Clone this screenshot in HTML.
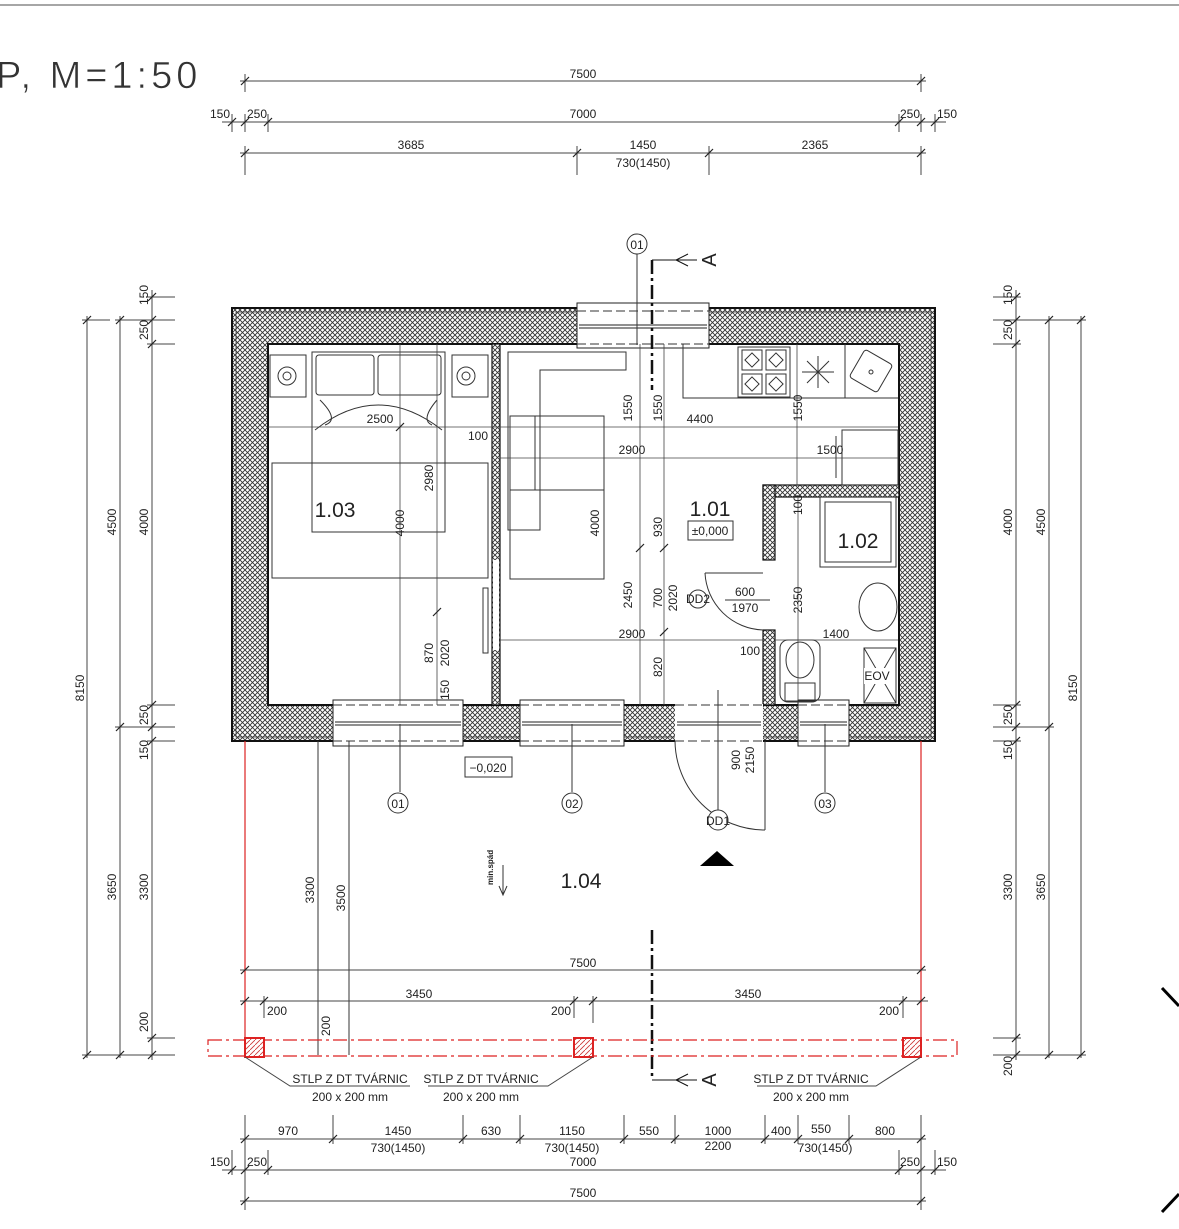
<!DOCTYPE html>
<html><head><meta charset="utf-8"><style>
html,body{margin:0;padding:0;background:#fff}
svg{display:block}
text{font-family:"Liberation Sans Narrow","Liberation Sans",sans-serif;fill:#222}
.d{font-size:12px}
</style></head><body>
<svg width="1179" height="1229" viewBox="0 0 1179 1229" xmlns="http://www.w3.org/2000/svg">
<defs>
<pattern id="h" width="5" height="5" patternUnits="userSpaceOnUse">
<rect width="5" height="5" fill="#fff"/>
<path d="M0 0L5 5M5 0L0 5" stroke="#333" stroke-width="0.9"/>
</pattern>
<pattern id="hr" width="5" height="5" patternUnits="userSpaceOnUse">
<rect width="5" height="5" fill="#fff"/>
<path d="M0 5L5 0" stroke="#c33" stroke-width="0.8"/>
</pattern>
<g id="t"><line x1="-4" y1="4" x2="4" y2="-4" stroke="#222" stroke-width="1.2"/></g>
</defs>

<line x1="0" y1="5" x2="1179" y2="5" stroke="#888" stroke-width="1.5"/>
<text x="-4" y="88" style="font-family:'Liberation Sans',sans-serif;font-size:38px;letter-spacing:4px;fill:#333;stroke:#fff;stroke-width:0.6">P,  M=1:50</text>

<!-- TOP DIMS -->
<g stroke="#444" stroke-width="1" fill="none">
<line x1="240" y1="81" x2="926" y2="81"/>
<line x1="245" y1="74" x2="245" y2="92"/><line x1="921" y1="74" x2="921" y2="92"/>
<line x1="222" y1="122" x2="946" y2="122"/>
<line x1="232" y1="114" x2="232" y2="132"/><line x1="245" y1="114" x2="245" y2="132"/><line x1="268" y1="114" x2="268" y2="132"/>
<line x1="899" y1="114" x2="899" y2="132"/><line x1="921" y1="114" x2="921" y2="132"/><line x1="935" y1="114" x2="935" y2="132"/>
<line x1="240" y1="153" x2="926" y2="153"/>
<line x1="245" y1="146" x2="245" y2="175"/><line x1="577" y1="146" x2="577" y2="175"/><line x1="709" y1="146" x2="709" y2="175"/><line x1="921" y1="146" x2="921" y2="175"/>
</g>
<use href="#t" x="245" y="81"/><use href="#t" x="921" y="81"/>
<use href="#t" x="232" y="122"/><use href="#t" x="245" y="122"/><use href="#t" x="268" y="122"/><use href="#t" x="899" y="122"/><use href="#t" x="921" y="122"/><use href="#t" x="935" y="122"/>
<use href="#t" x="245" y="153"/><use href="#t" x="577" y="153"/><use href="#t" x="709" y="153"/><use href="#t" x="921" y="153"/>
<g class="d" text-anchor="middle">
<text x="583" y="78">7500</text>
<text x="220" y="118">150</text><text x="257" y="118">250</text><text x="583" y="118">7000</text><text x="910" y="118">250</text><text x="947" y="118">150</text>
<text x="411" y="149">3685</text><text x="643" y="149">1450</text><text x="643" y="167">730(1450)</text><text x="815" y="149">2365</text>
</g>

<!-- LEFT DIMS -->
<g stroke="#444" stroke-width="1" fill="none">
<line x1="87" y1="316" x2="87" y2="1058"/>
<line x1="120" y1="316" x2="120" y2="1058"/>
<line x1="152" y1="290" x2="152" y2="1060"/>
<line x1="82" y1="320" x2="110" y2="320"/><line x1="82" y1="1055" x2="175" y2="1055"/>
<line x1="115" y1="320" x2="175" y2="320"/><line x1="115" y1="727" x2="175" y2="727"/>
<line x1="147" y1="297" x2="175" y2="297"/><line x1="147" y1="344" x2="175" y2="344"/><line x1="147" y1="705" x2="175" y2="705"/><line x1="147" y1="741" x2="175" y2="741"/><line x1="147" y1="1038" x2="175" y2="1038"/>
<line x1="1016" y1="290" x2="1016" y2="1060"/>
<line x1="1049" y1="316" x2="1049" y2="1058"/>
<line x1="1081" y1="316" x2="1081" y2="1058"/>
<line x1="993" y1="297" x2="1021" y2="297"/><line x1="993" y1="320" x2="1086" y2="320"/><line x1="993" y1="344" x2="1021" y2="344"/><line x1="993" y1="705" x2="1021" y2="705"/><line x1="993" y1="727" x2="1054" y2="727"/><line x1="993" y1="741" x2="1021" y2="741"/><line x1="993" y1="1038" x2="1021" y2="1038"/><line x1="993" y1="1055" x2="1086" y2="1055"/>
</g>
<g>
<use href="#t" x="87" y="320"/><use href="#t" x="87" y="1055"/><use href="#t" x="120" y="320"/><use href="#t" x="120" y="727"/><use href="#t" x="120" y="1055"/>
<use href="#t" x="152" y="297"/><use href="#t" x="152" y="320"/><use href="#t" x="152" y="344"/><use href="#t" x="152" y="705"/><use href="#t" x="152" y="727"/><use href="#t" x="152" y="741"/><use href="#t" x="152" y="1038"/><use href="#t" x="152" y="1055"/>
<use href="#t" x="1081" y="320"/><use href="#t" x="1081" y="1055"/><use href="#t" x="1049" y="320"/><use href="#t" x="1049" y="727"/><use href="#t" x="1049" y="1055"/>
<use href="#t" x="1016" y="297"/><use href="#t" x="1016" y="320"/><use href="#t" x="1016" y="344"/><use href="#t" x="1016" y="705"/><use href="#t" x="1016" y="727"/><use href="#t" x="1016" y="741"/><use href="#t" x="1016" y="1038"/><use href="#t" x="1016" y="1055"/>
</g>
<g class="d" text-anchor="middle">
<text transform="translate(84,688) rotate(-90)">8150</text>
<text transform="translate(116,522) rotate(-90)">4500</text>
<text transform="translate(116,887) rotate(-90)">3650</text>
<text transform="translate(148,295) rotate(-90)">150</text>
<text transform="translate(148,330) rotate(-90)">250</text>
<text transform="translate(148,522) rotate(-90)">4000</text>
<text transform="translate(148,715) rotate(-90)">250</text>
<text transform="translate(148,750) rotate(-90)">150</text>
<text transform="translate(148,887) rotate(-90)">3300</text>
<text transform="translate(148,1022) rotate(-90)">200</text>
<text transform="translate(1077,688) rotate(-90)">8150</text>
<text transform="translate(1045,522) rotate(-90)">4500</text>
<text transform="translate(1045,887) rotate(-90)">3650</text>
<text transform="translate(1012,295) rotate(-90)">150</text>
<text transform="translate(1012,330) rotate(-90)">250</text>
<text transform="translate(1012,522) rotate(-90)">4000</text>
<text transform="translate(1012,715) rotate(-90)">250</text>
<text transform="translate(1012,750) rotate(-90)">150</text>
<text transform="translate(1012,887) rotate(-90)">3300</text>
<text transform="translate(1012,1066) rotate(-90)">200</text>
</g>

<!-- WALLS -->
<path fill-rule="evenodd" fill="url(#h)" stroke="#111" stroke-width="2" d="M232 308H935V741H232Z M268 344V705H899V344Z"/>
<rect x="236" y="312" width="695" height="425" fill="none" stroke="#333" stroke-width="0.8"/>
<rect x="492" y="344" width="8" height="361" fill="url(#h)" stroke="#111" stroke-width="1.2"/>
<rect x="763" y="485" width="136" height="12" fill="url(#h)" stroke="#111" stroke-width="1.2"/>
<rect x="763" y="485" width="12" height="75" fill="url(#h)" stroke="#111" stroke-width="1.2"/>
<rect x="763" y="630" width="12" height="75" fill="url(#h)" stroke="#111" stroke-width="1.2"/>
<g fill="#fff" stroke="#222" stroke-width="1">
<rect x="577" y="303" width="132" height="45"/>
<rect x="333" y="700" width="130" height="46"/>
<rect x="520" y="700" width="104" height="46"/>
<rect x="675" y="704" width="88" height="38" stroke="none"/>
<rect x="798" y="700" width="51" height="46"/>
<rect x="493" y="560" width="6" height="90" stroke="none"/>
</g>
<g stroke="#222" stroke-width="1" fill="none">
<line x1="579" y1="325" x2="707" y2="325"/><line x1="579" y1="328" x2="707" y2="328"/>
<line x1="335" y1="722" x2="461" y2="722"/><line x1="335" y1="725" x2="461" y2="725"/>
<line x1="522" y1="722" x2="622" y2="722"/><line x1="522" y1="725" x2="622" y2="725"/>
<line x1="800" y1="722" x2="847" y2="722"/><line x1="800" y1="725" x2="847" y2="725"/>
<line x1="677" y1="722" x2="761" y2="722"/><line x1="677" y1="725" x2="761" y2="725"/>
</g>
<g stroke="#333" stroke-width="1" stroke-dasharray="9,4" fill="none">
<line x1="577" y1="311" x2="709" y2="311"/><line x1="577" y1="344" x2="709" y2="344"/>
<line x1="333" y1="705" x2="463" y2="705"/><line x1="333" y1="741" x2="463" y2="741"/>
<line x1="520" y1="705" x2="624" y2="705"/><line x1="520" y1="741" x2="624" y2="741"/>
<line x1="798" y1="705" x2="849" y2="705"/><line x1="798" y1="741" x2="849" y2="741"/>
<line x1="675" y1="705" x2="765" y2="705"/><line x1="675" y1="741" x2="765" y2="741"/>
</g>

<!-- FURNITURE -->
<g stroke="#333" stroke-width="1" fill="none">
<rect x="270" y="355" width="36" height="42"/><circle cx="287" cy="376" r="9"/><circle cx="287" cy="376" r="4"/>
<rect x="452" y="355" width="36" height="42"/><circle cx="466" cy="376" r="9"/><circle cx="466" cy="376" r="4"/>
<rect x="312" y="352" width="133" height="180"/>
<rect x="316" y="355" width="58" height="40" rx="3"/><rect x="378" y="355" width="63" height="40" rx="3"/>
<path d="M315 430Q378 380 442 430"/><path d="M320 400Q340 420 325 425M437 400Q420 420 432 425"/>
<rect x="272" y="463" width="216" height="115"/>
<path d="M508 352H626V370H540V530H508Z"/>
<rect x="510" y="416" width="94" height="163"/><line x1="535" y1="416" x2="535" y2="490"/><line x1="510" y1="490" x2="604" y2="490"/>
<rect x="483" y="588" width="5" height="65"/>
<path d="M683 344V398H898"/>
<rect x="738" y="347" width="52" height="50"/>
<rect x="742" y="350" width="20" height="20"/><rect x="766" y="350" width="20" height="20"/><rect x="742" y="374" width="20" height="20"/><rect x="766" y="374" width="20" height="20"/>
<rect x="747" y="355" width="10" height="10" transform="rotate(45 752 360)"/><rect x="771" y="355" width="10" height="10" transform="rotate(45 776 360)"/><rect x="747" y="379" width="10" height="10" transform="rotate(45 752 384)"/><rect x="771" y="379" width="10" height="10" transform="rotate(45 776 384)"/>
<path d="M818 356V388M802 372H834M807 361L829 383M829 361L807 383"/>
<line x1="845" y1="344" x2="845" y2="398"/>
<rect x="855" y="355" width="32" height="32" rx="3" transform="rotate(30 871 371)"/><circle cx="871" cy="372" r="2"/>
<rect x="842" y="430" width="56" height="55"/><line x1="836" y1="436" x2="836" y2="478"/>
<rect x="820" y="497" width="76" height="70"/><rect x="825" y="502" width="66" height="60"/>
<ellipse cx="878" cy="607" rx="19" ry="24"/>
<rect x="780" y="640" width="40" height="62" rx="8"/><ellipse cx="800" cy="660" rx="14" ry="18"/>
<rect x="785" y="683" width="30" height="18"/>
<rect x="864" y="648" width="32" height="55"/><line x1="864" y1="648" x2="896" y2="703"/><line x1="896" y1="648" x2="864" y2="703"/>
<path d="M705 573A60 60 0 0 0 763 630"/><line x1="705" y1="573" x2="763" y2="573"/>
<path d="M675 741A90 90 0 0 0 765 830"/><line x1="765" y1="741" x2="765" y2="830"/>
</g>
<rect x="864" y="668" width="26" height="16" fill="#fff"/>
<text x="877" y="680" class="d" text-anchor="middle">EOV</text>

<!-- INTERIOR DIMS -->
<g stroke="#444" stroke-width="0.8" fill="none">
<line x1="268" y1="427" x2="898" y2="427"/>
<line x1="500" y1="458" x2="898" y2="458"/>
<line x1="500" y1="640" x2="763" y2="640"/><line x1="775" y1="640" x2="898" y2="640"/>
<line x1="400" y1="344" x2="400" y2="705"/>
<line x1="437" y1="344" x2="437" y2="705"/>
<line x1="640" y1="344" x2="640" y2="705"/>
<line x1="664" y1="344" x2="664" y2="705"/>
<line x1="797" y1="344" x2="797" y2="485"/>
<line x1="798" y1="497" x2="798" y2="700"/>
</g>
<g>
<use href="#t" x="400" y="427"/><use href="#t" x="437" y="612"/><use href="#t" x="664" y="548"/><use href="#t" x="664" y="632"/><use href="#t" x="640" y="548"/>
</g>
<g class="d" text-anchor="middle">
<text x="380" y="423">2500</text><text x="700" y="423">4400</text>
<text x="478" y="440">100</text>
<text x="632" y="454">2900</text><text x="830" y="454">1500</text>
<text x="632" y="638">2900</text><text x="836" y="638">1400</text>
<text x="750" y="655">100</text>
<text transform="translate(404,523) rotate(-90)">4000</text>
<text transform="translate(433,478) rotate(-90)">2980</text>
<text transform="translate(433,653) rotate(-90)">870</text>
<text transform="translate(449,653) rotate(-90)">2020</text>
<text transform="translate(449,690) rotate(-90)">150</text>
<text transform="translate(599,523) rotate(-90)" fill="#999">4000</text>
<text transform="translate(632,408) rotate(-90)">1550</text>
<text transform="translate(662,408) rotate(-90)">1550</text>
<text transform="translate(662,527) rotate(-90)" fill="#999">930</text>
<text transform="translate(632,595) rotate(-90)">2450</text>
<text transform="translate(662,598) rotate(-90)">700</text>
<text transform="translate(677,598) rotate(-90)">2020</text>
<text transform="translate(662,667) rotate(-90)">820</text>
<text transform="translate(802,408) rotate(-90)">1550</text>
<text transform="translate(802,505) rotate(-90)">100</text>
<text transform="translate(802,600) rotate(-90)">2350</text>
<text x="745" y="596">600</text><text x="745" y="612">1970</text>
</g>
<line x1="725" y1="600" x2="770" y2="600" stroke="#333"/>
<circle cx="698" cy="599" r="9" fill="#fff" stroke="#333"/><text x="698" y="603" class="d" text-anchor="middle" font-size="11">DD2</text>

<g style="font-family:'Liberation Sans',sans-serif" text-anchor="middle" font-size="21">
<text x="335" y="517">1.03</text><text x="710" y="516">1.01</text><text x="858" y="548">1.02</text><text x="581" y="888">1.04</text>
</g>
<rect x="688" y="521" width="45" height="19" fill="#fff" stroke="#333"/><text x="710" y="535" class="d" text-anchor="middle">±0,000</text>
<rect x="465" y="757" width="47" height="20" fill="#fff" stroke="#333"/><text x="488" y="772" class="d" text-anchor="middle">−0,020</text>
<text transform="translate(493,885) rotate(-90)" font-size="8" style="font-weight:bold">min.spád</text>
<path d="M503 865V895M499 886L503 895L507 886" stroke="#333" fill="none"/>
<polygon points="700,866 717,851 734,866" fill="#000"/>

<g stroke="#333" fill="none" stroke-width="1">
<line x1="400" y1="724" x2="400" y2="792"/><line x1="572" y1="724" x2="572" y2="792"/><line x1="825" y1="724" x2="825" y2="792"/>
<line x1="718" y1="690" x2="718" y2="810"/>
<line x1="637" y1="254" x2="637" y2="345"/>
<line x1="318" y1="741" x2="318" y2="1055"/><line x1="349" y1="741" x2="349" y2="1055"/>
</g>
<g fill="#fff" stroke="#333">
<circle cx="398" cy="803" r="10"/><circle cx="572" cy="803" r="10"/><circle cx="825" cy="803" r="10"/><circle cx="718" cy="820" r="10"/><circle cx="637" cy="244" r="10"/>
</g>
<g class="d" text-anchor="middle">
<text x="398" y="808">01</text><text x="572" y="808">02</text><text x="825" y="808">03</text><text x="718" y="825">DD1</text><text x="637" y="249">01</text>
<text transform="translate(314,890) rotate(-90)">3300</text>
<text transform="translate(345,898) rotate(-90)">3500</text>
<text transform="translate(330,1026) rotate(-90)">200</text>
<text transform="translate(740,760) rotate(-90)">900</text>
<text transform="translate(754,760) rotate(-90)">2150</text>
</g>

<g stroke="#111" stroke-width="2.5" stroke-dasharray="14,4,3,4" fill="none">
<line x1="652" y1="260" x2="652" y2="390"/>
<line x1="652" y1="930" x2="652" y2="1080"/>
</g>
<path d="M652 260H697M688 254L676 260L688 266M652 1080H697M688 1074L676 1080L688 1086" stroke="#111" fill="none"/>
<text transform="translate(716,260) rotate(-90)" font-size="20" text-anchor="middle" style="font-family:'Liberation Sans',sans-serif">A</text>
<text transform="translate(716,1080) rotate(-90)" font-size="20" text-anchor="middle" style="font-family:'Liberation Sans',sans-serif">A</text>

<g stroke="#d22" fill="none" stroke-width="1.2">
<line x1="245" y1="741" x2="245" y2="1040"/><line x1="921" y1="741" x2="921" y2="1040"/>
<rect x="208" y="1040" width="749" height="16" stroke-dasharray="14,4,3,4"/>
</g>
<g stroke="#d22" stroke-width="2" fill="url(#hr)">
<rect x="245" y="1038" width="19" height="19"/><rect x="574" y="1038" width="19" height="19"/><rect x="903" y="1038" width="18" height="19"/>
</g>

<g stroke="#444" stroke-width="1" fill="none">
<line x1="240" y1="970" x2="926" y2="970"/>
<line x1="240" y1="1001" x2="928" y2="1001"/>
<line x1="264" y1="996" x2="264" y2="1018"/><line x1="574" y1="996" x2="574" y2="1018"/><line x1="593" y1="996" x2="593" y2="1023"/><line x1="903" y1="996" x2="903" y2="1018"/>
<path d="M245 1057L290 1086H410M593 1057L548 1086H428M921 1057L876 1086H757"/>
<line x1="240" y1="1139" x2="926" y2="1139"/>
<line x1="245" y1="1115" x2="245" y2="1210"/><line x1="921" y1="1115" x2="921" y2="1210"/>
<line x1="333" y1="1115" x2="333" y2="1144"/><line x1="463" y1="1115" x2="463" y2="1144"/><line x1="520" y1="1115" x2="520" y2="1144"/><line x1="624" y1="1115" x2="624" y2="1144"/><line x1="675" y1="1115" x2="675" y2="1144"/><line x1="765" y1="1115" x2="765" y2="1144"/><line x1="798" y1="1115" x2="798" y2="1144"/><line x1="849" y1="1115" x2="849" y2="1144"/>
<line x1="222" y1="1170" x2="946" y2="1170"/>
<line x1="232" y1="1150" x2="232" y2="1175"/><line x1="268" y1="1150" x2="268" y2="1175"/><line x1="899" y1="1150" x2="899" y2="1175"/><line x1="935" y1="1150" x2="935" y2="1175"/>
<line x1="240" y1="1201" x2="926" y2="1201"/>
</g>
<g>
<use href="#t" x="245" y="970"/><use href="#t" x="921" y="970"/>
<use href="#t" x="245" y="1001"/><use href="#t" x="264" y="1001"/><use href="#t" x="574" y="1001"/><use href="#t" x="593" y="1001"/><use href="#t" x="903" y="1001"/><use href="#t" x="921" y="1001"/>
<use href="#t" x="245" y="1139"/><use href="#t" x="333" y="1139"/><use href="#t" x="463" y="1139"/><use href="#t" x="520" y="1139"/><use href="#t" x="624" y="1139"/><use href="#t" x="675" y="1139"/><use href="#t" x="765" y="1139"/><use href="#t" x="798" y="1139"/><use href="#t" x="849" y="1139"/><use href="#t" x="921" y="1139"/>
<use href="#t" x="232" y="1170"/><use href="#t" x="245" y="1170"/><use href="#t" x="268" y="1170"/><use href="#t" x="899" y="1170"/><use href="#t" x="921" y="1170"/><use href="#t" x="935" y="1170"/>
<use href="#t" x="245" y="1201"/><use href="#t" x="921" y="1201"/>
</g>
<g class="d" text-anchor="middle">
<text x="583" y="967">7500</text>
<text x="419" y="998">3450</text><text x="748" y="998">3450</text>
<text x="277" y="1015">200</text><text x="561" y="1015">200</text><text x="889" y="1015">200</text>
<text x="350" y="1083">STLP  Z  DT  TVÁRNIC</text><text x="350" y="1101">200  x  200  mm</text>
<text x="481" y="1083">STLP  Z  DT  TVÁRNIC</text><text x="481" y="1101">200  x  200  mm</text>
<text x="811" y="1083">STLP  Z  DT  TVÁRNIC</text><text x="811" y="1101">200  x  200  mm</text>
<text x="288" y="1135">970</text><text x="398" y="1135">1450</text><text x="491" y="1135">630</text><text x="572" y="1135">1150</text><text x="649" y="1135">550</text><text x="718" y="1135">1000</text><text x="781" y="1135">400</text><text x="821" y="1133">550</text><text x="885" y="1135">800</text>
<text x="398" y="1152">730(1450)</text><text x="572" y="1152">730(1450)</text><text x="718" y="1150">2200</text><text x="825" y="1152">730(1450)</text>
<text x="220" y="1166">150</text><text x="257" y="1166">250</text><text x="583" y="1166">7000</text><text x="910" y="1166">250</text><text x="947" y="1166">150</text>
<text x="583" y="1197">7500</text>
</g>

<path d="M1162 988L1179 1006M1162 1212L1179 1194" stroke="#000" stroke-width="3"/>
</svg>
</body></html>
